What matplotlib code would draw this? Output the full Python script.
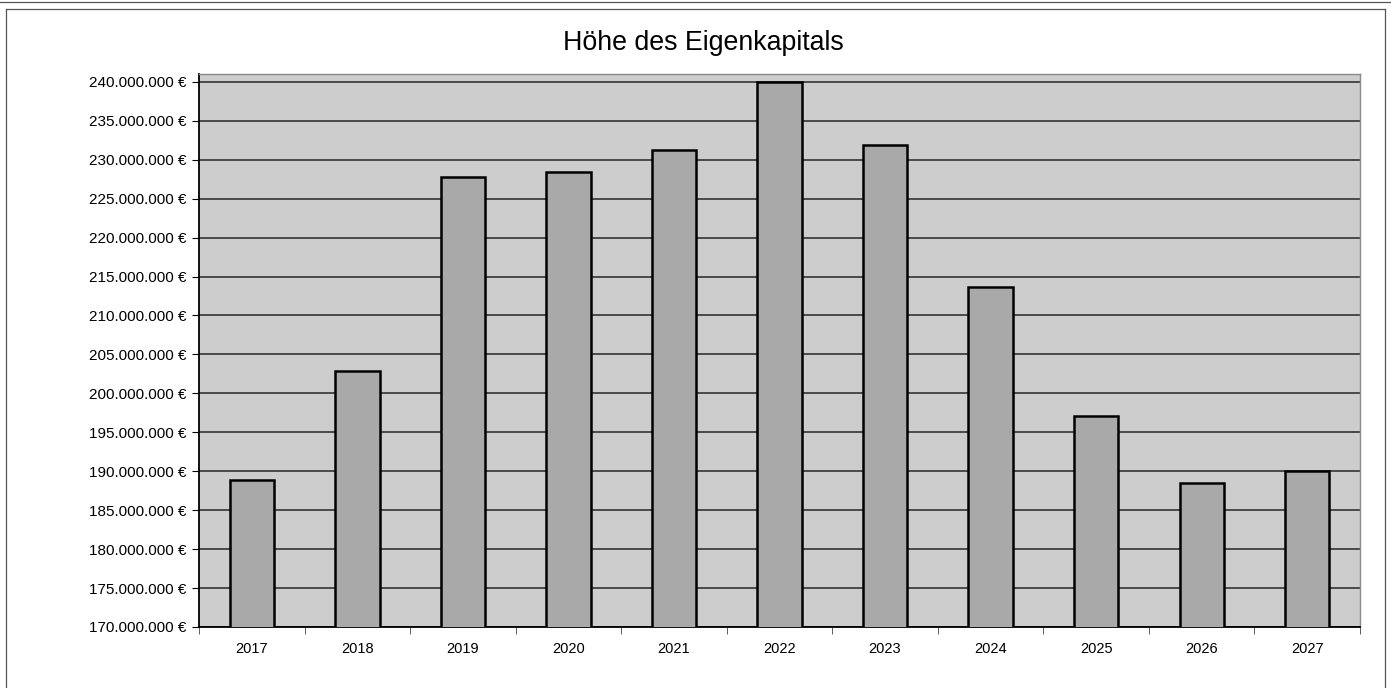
import matplotlib
matplotlib.use("Agg")
import matplotlib.pyplot as plt
from matplotlib.ticker import FuncFormatter, FixedLocator
from matplotlib.lines import Line2D

# values (Euro)
years = ["2017", "2018", "2019", "2020", "2021", "2022",
         "2023", "2024", "2025", "2026", "2027"]
equity = [188.9e6, 202.9e6, 227.8e6, 228.4e6, 231.2e6, 240.0e6,
          231.9e6, 213.7e6, 197.1e6, 188.5e6, 190.0e6]
y_ticks = [170e6 + 5e6 * k for k in range(15)]

plt.rcParams["font.family"] = ["Liberation Sans", "DejaVu Sans"]


def euro(v, pos):
    return "{:,.0f} €".format(v).replace(",", ".")


fig = plt.figure(figsize=(13.91, 6.88), dpi=100)
fig.patch.set_facecolor("white")
ax = fig.add_axes([0.1431, 0.0887, 0.8346, 0.8037])
ax.set_facecolor("#cdcdcd")

xs = list(range(len(years)))
ax.bar(xs, equity, width=0.42, color="#a9a9a9", edgecolor="black",
       linewidth=1.8, zorder=3)

ax.set_xlim(-0.5, len(years) - 0.5)
ax.set_ylim(170e6, 241e6)
ax.yaxis.set_major_locator(FixedLocator(y_ticks))
ax.yaxis.set_major_formatter(FuncFormatter(euro))
ax.grid(axis="y", color="#262626", linewidth=1.1, zorder=1)

ax.set_xticks(xs)
ax.set_xticklabels(years)
ax.set_xticks([i + 0.5 for i in range(-1, len(years))], minor=True)
ax.tick_params(axis="x", which="major", length=0, pad=11, labelsize=10.5)
ax.tick_params(axis="x", which="minor", length=5, color="#444444")
ax.tick_params(axis="y", length=5, labelsize=11, pad=4)

for side in ("left", "bottom"):
    ax.spines[side].set_color("black")
    ax.spines[side].set_linewidth(1.3)
for side in ("top", "right"):
    ax.spines[side].set_color("#8a8a8a")
    ax.spines[side].set_linewidth(1.0)

fig.text(0.5054, 0.938, "Höhe des Eigenkapitals", ha="center", va="center",
         fontsize=19.3)

# outer frame of the scanned chart object
W, H = 1391.0, 688.0
frame = [([6 / W, 6 / W], [0.0, 1 - 9 / H]),
         ([6 / W, 1385 / W], [1 - 9 / H, 1 - 9 / H]),
         ([1385 / W, 1385 / W], [1 - 9 / H, 0.0]),
         ([0.0, 1.0], [1 - 2 / H, 1 - 2 / H])]
for fx, fy in frame:
    fig.add_artist(Line2D(fx, fy, transform=fig.transFigure,
                          color="#555555", linewidth=0.9))

fig.savefig("out.png", dpi=100)
